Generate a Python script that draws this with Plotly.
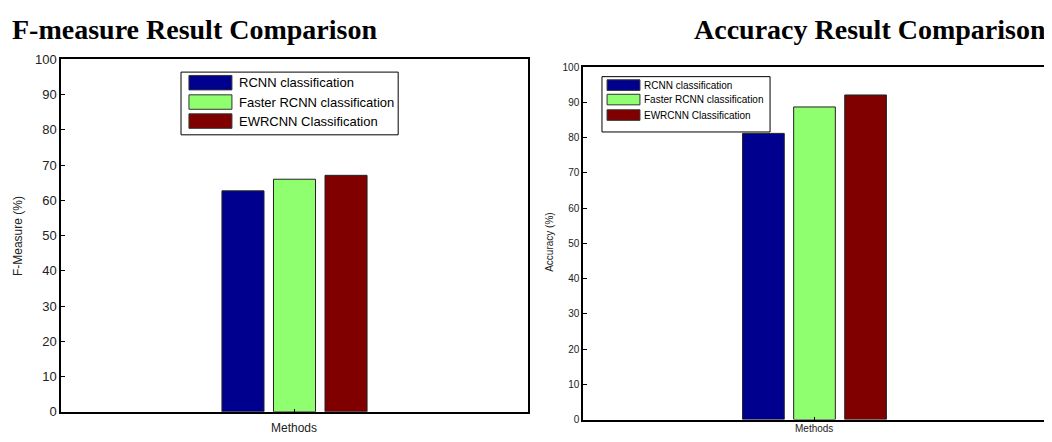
import plotly.graph_objects as go

# page body has an 8px margin; figure coordinates are offset accordingly
OFF = 8
W, H = 1052 - OFF, 442 - OFF

methods = ["RCNN classification", "Faster RCNN classification", "EWRCNN Classification"]
colors = ["#00008F", "#8FFF70", "#800000"]
fmeasure = [62.7, 66.0, 67.1]
accuracy = [81.2, 88.7, 92.1]
category = ["Methods"]
yticks = [0, 10, 20, 30, 40, 50, 60, 70, 80, 90, 100]

fig = go.Figure()

for i, name in enumerate(methods):
    fig.add_trace(go.Bar(x=category, y=[fmeasure[i]], name=name, marker_color=colors[i],
                         marker_line=dict(color="#222222", width=1), xaxis="x", yaxis="y",
                         offsetgroup=str(i), showlegend=False))
for i, name in enumerate(methods):
    fig.add_trace(go.Bar(x=category, y=[accuracy[i]], name=name, marker_color=colors[i],
                         marker_line=dict(color="#222222", width=1), xaxis="x2", yaxis="y2",
                         offsetgroup=str(i), showlegend=False))

def fx(v):
    return (v - OFF) / W

def fy(v):
    return 1 - (v - OFF) / H

axis_common = dict(showline=True, linecolor="black", mirror=True, ticks="inside",
                   tickcolor="black", zeroline=False, showgrid=False)

fig.update_layout(
    width=W, height=H, margin=dict(l=0, r=0, t=0, b=0),
    paper_bgcolor="white", plot_bgcolor="white",
    barmode="group", bargap=0.669, bargroupgap=0.184,
    xaxis=dict(domain=[fx(61), fx(528)], anchor="y", showticklabels=False,
               ticklen=3, linewidth=1.5, **axis_common),
    yaxis=dict(domain=[fy(419), fy(54)], anchor="x", range=[0, 100],
               tickvals=yticks, ticklen=4, linewidth=1.5,
               tickfont=dict(family="Liberation Sans, Arial", size=13, color="#222222"),
               **axis_common),
    xaxis2=dict(domain=[fx(583), fx(1046)], anchor="y2", showticklabels=False,
                ticklen=3, linewidth=1.5, **axis_common),
    yaxis2=dict(domain=[fy(427), fy(62)], anchor="x2", range=[0, 100],
                tickvals=yticks, ticklen=4, linewidth=1.5,
                tickfont=dict(family="Liberation Sans, Arial", size=10, color="#222222"),
                **axis_common),
)

annotations = [
    dict(text="<b>F-measure Result Comparison</b>", xref="paper", yref="paper",
         x=fx(10), y=fy(23), xanchor="left", yanchor="middle", showarrow=False,
         font=dict(family="Liberation Serif, Times New Roman", size=28, color="black")),
    dict(text="<b>Accuracy Result Comparison</b>", xref="paper", yref="paper",
         x=fx(1048), y=fy(23), xanchor="right", yanchor="middle", showarrow=False,
         font=dict(family="Liberation Serif, Times New Roman", size=28, color="black")),
    dict(text="F-Measure (%)", xref="paper", yref="paper", x=fx(18), y=fy(237),
         textangle=-90, showarrow=False, xanchor="center", yanchor="middle",
         font=dict(family="Liberation Sans, Arial", size=12, color="#222222")),
    dict(text="Accuracy (%)", xref="paper", yref="paper", x=fx(550), y=fy(244),
         textangle=-90, showarrow=False, xanchor="center", yanchor="middle",
         font=dict(family="Liberation Sans, Arial", size=10, color="#222222")),
    dict(text="Methods", xref="paper", yref="paper", x=fx(294), y=fy(436),
         showarrow=False, xanchor="center", yanchor="middle",
         font=dict(family="Liberation Sans, Arial", size=12, color="#222222")),
    dict(text="Methods", xref="paper", yref="paper", x=fx(814), y=fy(436),
         showarrow=False, xanchor="center", yanchor="middle",
         font=dict(family="Liberation Sans, Arial", size=10, color="#222222")),
]

shapes = []
# Custom MATLAB-style legends
legend_specs = [
    ("x domain", "y domain", (0.257, 0.722, 0.786, 0.964), (0.274, 0.366),
     [0.934, 0.879, 0.825], 0.041, 0.377, 13),
    ("x2 domain", "y2 domain", (0.041, 0.404, 0.816, 0.973), (0.052, 0.123),
     [0.949, 0.908, 0.864], 0.030, 0.128, 10),
]
for xr, yr, box, sw, rows, sh, tx, fs in legend_specs:
    shapes.append(dict(type="rect", xref=xr, yref=yr, x0=box[0], x1=box[1], y0=box[2], y1=box[3],
                       line=dict(color="black", width=1), fillcolor="white", layer="above"))
    for i, name in enumerate(methods):
        shapes.append(dict(type="rect", xref=xr, yref=yr, x0=sw[0], x1=sw[1],
                           y0=rows[i] - sh / 2, y1=rows[i] + sh / 2,
                           line=dict(color="#333333", width=1), fillcolor=colors[i], layer="above"))
        annotations.append(dict(text=name, xref=xr, yref=yr, x=tx, y=rows[i],
                                xanchor="left", yanchor="middle", showarrow=False,
                                font=dict(family="Liberation Sans, Arial", size=fs, color="black")))

fig.update_layout(annotations=annotations, shapes=shapes)
fig.write_html("out.html")
